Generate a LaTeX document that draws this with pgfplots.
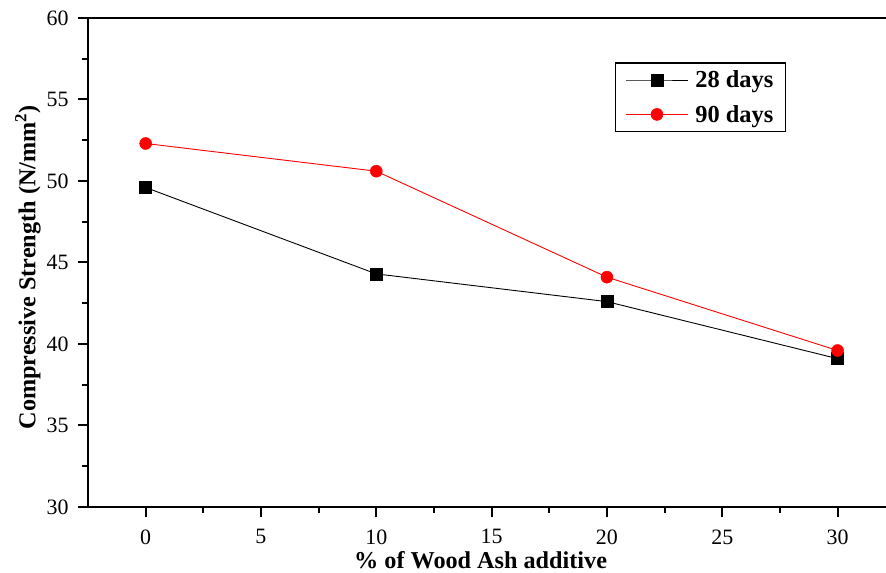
\documentclass[border=0pt]{standalone}
\usepackage{fontspec}
\setmainfont{Liberation Serif}
\usepackage{pgfplots}
\pgfplotsset{compat=1.18}
\definecolor{pred}{RGB}{255,0,0}
\begin{document}
\begin{tikzpicture}[x=1bp,y=1bp]
  \begin{axis}[
      at={(0,0)}, anchor=south west,
      width=798bp, height=489bp, scale only axis,
      xmin=-2.5, xmax=32.1, ymin=30, ymax=60,
      xtick={0,5,...,30}, ytick={30,35,...,60},
      minor x tick num=1, minor y tick num=1,
      axis x line=box, axis y line=left,
      axis line style={-, line width=2.2bp},
      tick style={line width=2bp, black},
      tick align=outside,
      xtick pos=bottom, ytick pos=left,
      major tick length=10bp, minor tick length=6bp,
      /pgf/number format/assume math mode=true,
      tick label style={font=\fontsize{22}{26}\selectfont},
      xticklabel style={yshift=-9bp},
      yticklabel style={xshift=-6bp},
      label style={font=\fontsize{24.3}{29}\selectfont\bfseries},
      xlabel={\% of Wood Ash additive},
      ylabel={Compressive Strength (N/mm\textsuperscript{2})},
      xlabel style={at={(axis description cs:0.492,-0.1084)}, anchor=center},
      ylabel style={at={(axis description cs:-0.0752,0.49)}, anchor=center},
      legend style={at={(axis description cs:0.660,0.910)}, anchor=north west,
        draw=black, line width=1.6bp, inner xsep=10bp, inner ysep=6bp,
        row sep=12bp, font=\fontsize{24.5}{29}\selectfont\bfseries,
        /tikz/every odd column/.append style={column sep=5bp}},
      legend cell align=left,
      legend image code/.code={
        \draw[mark repeat=2, mark phase=2, #1]
          plot coordinates {(0bp,0bp) (31bp,0bp) (62bp,0bp)};
      },
    ]
    \addplot[black, line width=0.9bp, mark=square*, mark size=6bp,
      mark options={solid, line width=0.5bp}]
      coordinates {(0,49.6) (10,44.3) (20,42.6) (30,39.1)};
    \addlegendentry{28 days}
    \addplot[pred, line width=0.9bp, mark=*, mark size=6bp,
      mark options={solid, line width=0.5bp, fill=pred}]
      coordinates {(0,52.3) (10,50.6) (20,44.1) (30,39.6)};
    \addlegendentry{90 days}
  \end{axis}
  \pgfresetboundingbox
  \path (-88,-66) rectangle (798,507);
\end{tikzpicture}
\end{document}
